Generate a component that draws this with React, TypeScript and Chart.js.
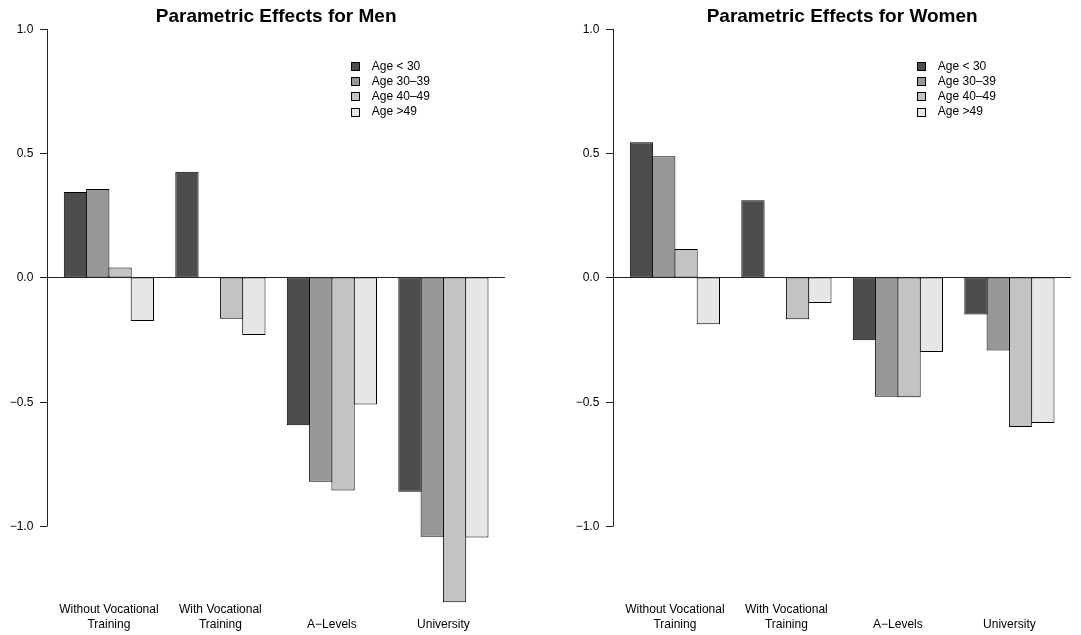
import React, { useEffect, useRef } from "react";
import { Chart, registerables } from "chart.js";

Chart.register(...registerables);

const categories = [["Without Vocational", "Training"], ["With Vocational", "Training"], ["A\u2212Levels"], ["University"]];
const ageGroups = ["Age < 30", "Age 30\u201339", "Age 40\u201349", "Age >49"];
const colors = ["#4D4D4D", "#979797", "#C3C3C3", "#E6E6E6"];
const yTicks = [1.0, 0.5, 0.0, -0.5, -1.0];
const yTickLabels = ["1.0", "0.5", "0.0", "\u22120.5", "\u22121.0"];

// values per age group, across the 4 education categories
const menAgeU30 = [0.344, 0.425, -0.595, -0.862];
const menAge3039 = [0.356, 0.0, -0.822, -1.043];
const menAge4049 = [0.04, -0.166, -0.857, -1.307];
const menAgeO49 = [-0.175, -0.232, -0.511, -1.046];

const womenAgeU30 = [0.544, 0.31, -0.253, -0.149];
const womenAge3039 = [0.487, 0.0, -0.48, -0.294];
const womenAge4049 = [0.114, -0.168, -0.482, -0.602];
const womenAgeO49 = [-0.188, -0.103, -0.3, -0.586];

const menSeries = [menAgeU30, menAge3039, menAge4049, menAgeO49];
const womenSeries = [womenAgeU30, womenAge3039, womenAge4049, womenAgeO49];

const FONT = "'Liberation Sans', Arial, Helvetica, sans-serif";
const UNIT = 22.3;

type PanelProps = {
  title: string;
  series: number[][];
  left: number;
  width: number;
  unit0: number; // local x of R unit 0
};

function Panel({ title, series, left, width, unit0 }: PanelProps) {
  const ref = useRef<HTMLCanvasElement | null>(null);
  useEffect(() => {
    const canvas = ref.current;
    if (!canvas) return;
    const areaLeft = unit0 + 0.5 * UNIT;
    const areaRight = unit0 + 20.5 * UNIT;
    const axisX = unit0 + 0.24 * UNIT;
    const zeroEnd = unit0 + 20.76 * UNIT;
    const top = 28.8;
    const yMin = -1.32;
    const yMax = 1.0;
    const pxPerUnit = 248.6;
    const bottom = top + (yMax - yMin) * pxPerUnit;

    const overlay = {
      id: "rstyle",
      beforeDatasetsDraw(chart: any) {
        const ctx = chart.ctx;
        const ys = chart.scales.y;
        const xs = chart.scales.x;
        ctx.save();
        // title
        ctx.fillStyle = "#000";
        ctx.font = `bold 19px ${FONT}`;
        ctx.textAlign = "center";
        ctx.textBaseline = "middle";
        ctx.fillText(title, (axisX + zeroEnd) / 2, 17);
        // y axis
        ctx.strokeStyle = "#222";
        ctx.lineWidth = 1;
        const y1 = ys.getPixelForValue(yTicks[0]);
        const y2 = ys.getPixelForValue(yTicks[yTicks.length - 1]);
        ctx.beginPath();
        ctx.moveTo(Math.round(axisX) + 0.5, y1);
        ctx.lineTo(Math.round(axisX) + 0.5, y2);
        ctx.stroke();
        ctx.font = `12px ${FONT}`;
        ctx.textAlign = "right";
        ctx.textBaseline = "middle";
        yTicks.forEach((v, i) => {
          const py = Math.round(ys.getPixelForValue(v)) + 0.5;
          ctx.beginPath();
          ctx.moveTo(Math.round(axisX) + 0.5, py);
          ctx.lineTo(Math.round(axisX) - 7, py);
          ctx.stroke();
          ctx.fillText(yTickLabels[i], axisX - 14, py);
        });
        // category labels
        ctx.font = `12px ${FONT}`;
        ctx.textAlign = "center";
        ctx.textBaseline = "middle";
        categories.forEach((lines, i) => {
          const cx = xs.getPixelForValue(i);
          if (lines.length === 2) {
            ctx.fillText(lines[0], cx, 610);
            ctx.fillText(lines[1], cx, 625);
          } else {
            ctx.fillText(lines[0], cx, 625);
          }
        });
        // legend
        ctx.font = `12px ${FONT}`;
        ctx.textAlign = "left";
        ctx.textBaseline = "middle";
        ageGroups.forEach((lab, i) => {
          const cy = 66.5 + i * 15.2;
          const bx = axisX + 303.5;
          ctx.fillStyle = colors[i];
          ctx.fillRect(Math.round(bx), Math.round(cy - 4.5), 9, 9);
          ctx.strokeStyle = "#000";
          ctx.strokeRect(Math.round(bx) + 0.5, Math.round(cy - 4.5) + 0.5, 8, 8);
          ctx.fillStyle = "#000";
          ctx.fillText(lab, bx + 21, cy);
        });
        ctx.restore();
      },
      afterDatasetsDraw(chart: any) {
        const ctx = chart.ctx;
        const ys = chart.scales.y;
        ctx.save();
        ctx.strokeStyle = "#222";
        ctx.lineWidth = 1;
        const py = Math.round(ys.getPixelForValue(0)) + 0.5;
        ctx.beginPath();
        ctx.moveTo(axisX, py);
        ctx.lineTo(zeroEnd, py);
        ctx.stroke();
        ctx.restore();
      },
    };

    const chart = new Chart(canvas, {
      type: "bar",
      data: {
        labels: categories.map((c) => c.join(" ")),
        datasets: series.map((vals, i) => ({
          label: ageGroups[i],
          data: vals,
          backgroundColor: colors[i],
          borderColor: "#000",
          borderWidth: 1,
          borderSkipped: false,
          categoryPercentage: 0.8,
          barPercentage: 1.045,
          inflateAmount: 0,
        })),
      },
      options: {
        responsive: false,
        maintainAspectRatio: false,
        animation: false,
        events: [],
        layout: {
          padding: {
            left: areaLeft,
            right: width - areaRight,
            top: top,
            bottom: 635 - bottom,
          },
        },
        plugins: {
          legend: { display: false },
          title: { display: false },
          tooltip: { enabled: false },
        },
        scales: {
          x: { display: false, offset: true, grid: { display: false } },
          y: { display: false, min: yMin, max: yMax, grid: { display: false } },
        },
      },
      plugins: [overlay],
    });
    return () => chart.destroy();
  }, [title, series, left, width, unit0]);

  return (
    <div style={{ position: "absolute", left, top: 0, width, height: 635 }}>
      <canvas ref={ref} width={width} height={635} style={{ width, height: 635, display: "block" }} />
    </div>
  );
}

export default function App() {
  return (
    <div style={{ position: "fixed", left: 0, top: 0, width: 1081, height: 635, background: "#fff" }}>
      <Panel title="Parametric Effects for Men" series={menSeries} left={0} width={540} unit0={42.0} />
      <Panel title="Parametric Effects for Women" series={womenSeries} left={540} width={541} unit0={68.0} />
    </div>
  );
}
